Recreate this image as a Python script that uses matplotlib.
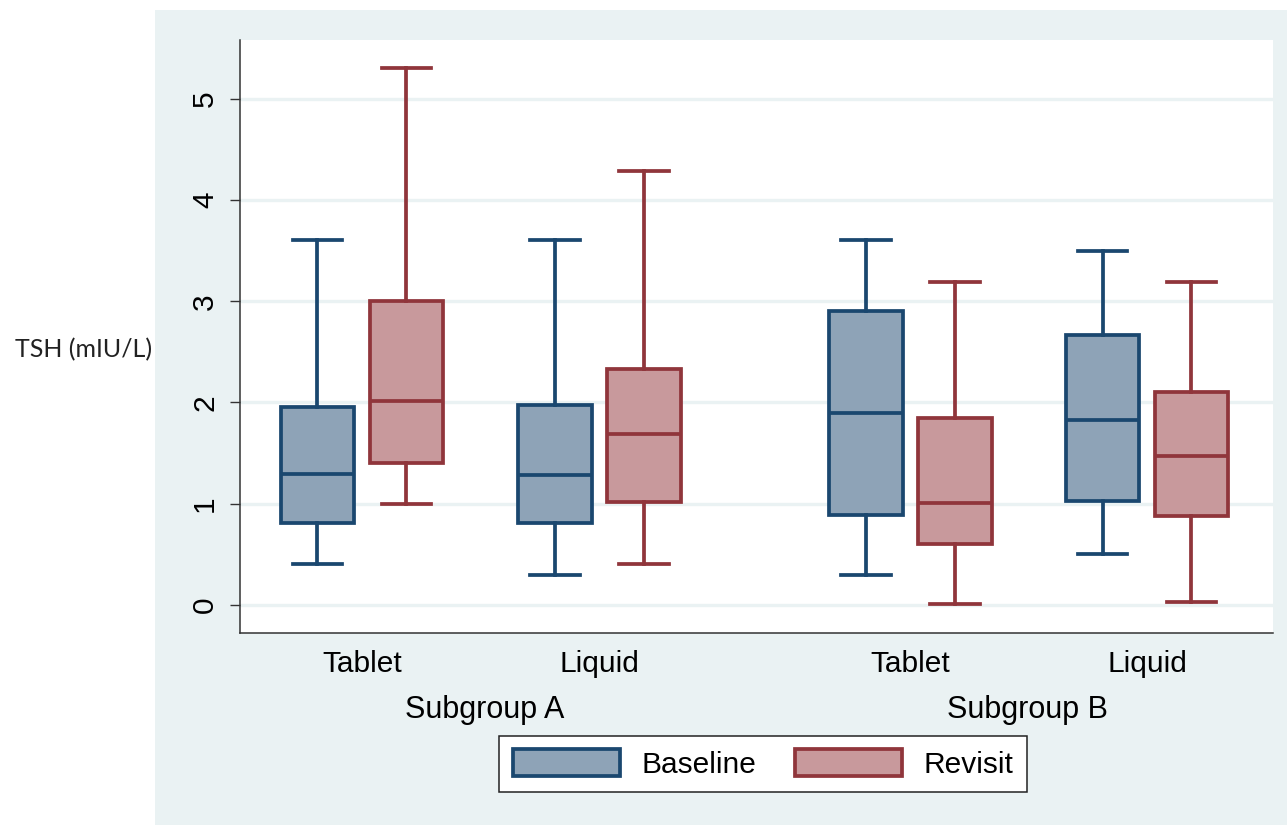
import matplotlib
matplotlib.use("Agg")
import matplotlib.pyplot as plt
from matplotlib.patches import Patch, Rectangle

# five-number summaries of TSH (mIU/L): low whisker, Q1, median, Q3, high whisker
categories = ["Tablet", "Liquid", "Tablet", "Liquid"]
subgroups = ["Subgroup A", "Subgroup B"]
baseline = [
    [0.4, 0.81, 1.29, 1.96, 3.6],
    [0.3, 0.81, 1.28, 1.97, 3.6],
    [0.3, 0.89, 1.90, 2.90, 3.6],
    [0.5, 1.03, 1.83, 2.67, 3.5],
]
revisit = [
    [1.0, 1.40, 2.01, 3.00, 5.3],
    [0.4, 1.02, 1.69, 2.33, 4.29],
    [0.01, 0.60, 1.01, 1.85, 3.19],
    [0.03, 0.88, 1.47, 2.10, 3.19],
]

navy, navy_fill = "#1a476f", "#8ea3b7"
maroon, maroon_fill = "#90353b", "#c8999c"
bg = "#eaf2f3"
fs = 21.5

plt.rcParams["font.family"] = ["Liberation Sans", "DejaVu Sans"]

fig = plt.figure(figsize=(12.87, 8.25), dpi=100, facecolor="white")
fig.patches.append(Rectangle((155 / 1287, 0), 1, 815 / 825, transform=fig.transFigure,
                             facecolor=bg, edgecolor="none", zorder=-10))
ax = fig.add_axes([240 / 1287, 192 / 825, 1033 / 1287, 593 / 825])
ax.set_facecolor("white")

centers = [0.118, 0.348, 0.649, 0.878]
off = 0.043
width = 0.071


def stats(rows):
    return [dict(whislo=r[0], q1=r[1], med=r[2], q3=r[3], whishi=r[4], fliers=[]) for r in rows]


def draw(rows, pos, edge, fill):
    lw = 2.7
    ax.bxp(stats(rows), positions=pos, widths=width, capwidths=0.048,
           patch_artist=True, showfliers=False, manage_ticks=False,
           boxprops=dict(facecolor=fill, edgecolor=edge, linewidth=lw),
           medianprops=dict(color=edge, linewidth=lw),
           whiskerprops=dict(color=edge, linewidth=lw),
           capprops=dict(color=edge, linewidth=lw), zorder=3)


draw(baseline, [c - off for c in centers], navy, navy_fill)
draw(revisit, [c + off for c in centers], maroon, maroon_fill)

ax.set_xlim(0, 1)
ax.set_ylim(-0.277, 5.58)
ax.set_yticks(range(6))
ax.set_yticklabels([str(v) for v in range(6)], rotation=90, va="center", fontsize=fs)
ax.tick_params(axis="y", length=7, width=1, pad=8, color="#333333")
ax.set_xticks(centers)
ax.set_xticklabels(categories, fontsize=fs)
ax.tick_params(axis="x", length=0, pad=12)
ax.grid(axis="y", color=bg, linewidth=2.4, zorder=0)
ax.set_axisbelow(True)
for s in ["top", "right"]:
    ax.spines[s].set_visible(False)
for s in ["left", "bottom"]:
    ax.spines[s].set_color("#333333")
    ax.spines[s].set_linewidth(1.1)

fig.text(485 / 1287, 1 - 710 / 825, subgroups[0], ha="center", va="center", fontsize=22)
fig.text(1027 / 1287, 1 - 710 / 825, subgroups[1], ha="center", va="center", fontsize=22)
fig.text(15 / 1287, 1 - 350 / 825, "TSH (mIU/L)", ha="left", va="center",
         fontsize=18, family=["Lato", "DejaVu Sans"], color="#222222")

handles = [Patch(facecolor=navy_fill, edgecolor=navy, linewidth=2.7, label="Baseline"),
           Patch(facecolor=maroon_fill, edgecolor=maroon, linewidth=2.7, label="Revisit")]
leg = fig.legend(handles=handles, loc="center", bbox_to_anchor=(763 / 1287, 1 - 764 / 825),
                 ncol=2, fontsize=fs, frameon=True, fancybox=False, edgecolor="#222222",
                 framealpha=1, handlelength=3.6, handleheight=1.0, columnspacing=1.3,
                 handletextpad=0.7, borderpad=0.45)
leg.get_frame().set_linewidth(1.1)

fig.savefig("out.png", dpi=100, facecolor="white")
